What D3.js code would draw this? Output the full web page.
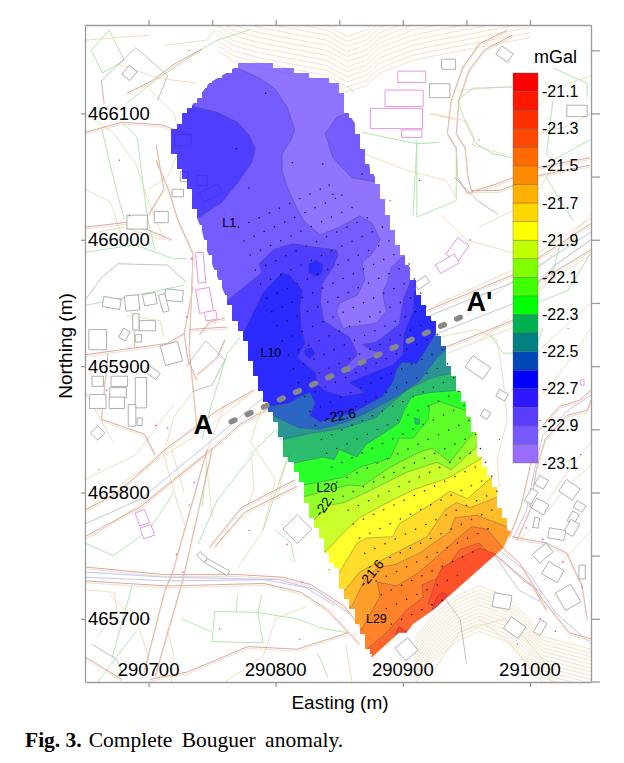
<!DOCTYPE html>
<html>
<head>
<meta charset="utf-8">
<script src="https://cdn.jsdelivr.net/npm/d3@7"></script>
<style>
  html, body { margin: 0; padding: 0; background: #fff; }
  text { font-family: "Liberation Sans", Arial, sans-serif; fill: #000; }
</style>
</head>
<body>
<div id="canvas"></div>
<script>
var width = 624;
var height = 763;

// all map coordinates below are metres, easting-290000 / northing-465000
var originE = 290000;
var originN = 465000;

var xTickLabels = [290700, 290800, 290900, 291000];
var yTickLabels = [465700, 465800, 465900, 466000, 466100];
var xTicks50 = [290700, 290750, 290800, 290850, 290900, 290950, 291000];
var yTicks50 = [465700, 465750, 465800, 465850, 465900, 465950, 466000, 466050, 466100, 466150];

// colour bar, lowest band first
var bandLevels = [-23.1, -23.0, -22.9, -22.8, -22.7, -22.6, -22.5, -22.4, -22.3, -22.2, -22.1, -22.0, -21.9, -21.8, -21.7, -21.6, -21.5, -21.4, -21.3, -21.2, -21.1];
var bandColors = ["#9a6cff", "#7a58ff", "#5a3cff", "#2d18ff", "#0000ff", "#0048b8", "#008080", "#00b050", "#00ff00", "#40ff00", "#80ff00", "#c0ff00", "#ffff00", "#ffd800", "#ffb000", "#ff8c00", "#ff6a00", "#ff4800", "#ff3000", "#ff1800", "#ff0000"];
var barLabels = [-21.1, -21.3, -21.5, -21.7, -21.9, -22.1, -22.3, -22.5, -22.7, -22.9, -23.1];

// edge of the surveyed area
var surveyOutline = [[772,1140],[775,1140],[795,1140],[800,1135],[816,1134],[832,1128],[848,1125],[854,1116],[856,1102],[864,1089],[868,1079],[874,1057],[882,1042],[892,1013],[898,994],[907,974],[916,947],[927,931],[935,910],[937,899],[950,871],[958,847],[960,831],[966,820],[971,810],[975,797],[980,781],[985,769],[979,756],[962,741],[924,707],[908,696],[903,689],[897,689],[875,669],[872,676],[868,689],[860,707],[853,721],[849,737],[841,749],[836,765],[829,778],[824,794],[820,808],[813,823],[805,834],[805,842],[797,864],[787,881],[782,897],[776,921],[766,942],[761,955],[752,976],[746,992],[742,1008],[738,1018],[732,1039],[723,1060],[718,1073],[718,1086],[734,1106],[748,1124],[765,1134]];
var southEastStrip = [[985,769],[979,756],[962,741],[924,707],[908,696],[903,689],[897,689],[875,669],[882,700],[929,739],[968,778]];

// closed anomaly patches
var lightNorth = [[860,1102],[848,1097],[839,1084],[845,1065],[860,1049],[878,1046],[886,1043],[894,1013],[901,994],[907,988],[899,986],[891,978],[888,967],[884,958],[887,943],[879,934],[853,930],[848,943],[850,950],[864,956],[870,968],[868,982],[876,989],[882,1000],[876,1013],[866,1019],[850,1010],[835,1004],[823,1014],[816,1026],[809,1042],[805,1055],[805,1068],[812,1079],[815,1087],[809,1105],[799,1120],[787,1128],[770,1136],[760,1142],[819,1150],[866,1126]];
var lobeNorthWest = [[733,1106],[754,1101],[770,1093],[779,1083],[784,1072],[781,1061],[770,1045],[757,1029],[740,1018],[724,1016],[709,1079],[728,1110]];
var spotDeepA = [[826,981],[832,984],[837,980],[836,973],[831,971],[826,974]];
var spotDeepB = [[823,913],[828,915],[831,910],[827,906],[823,909]];
var spotGreen = [[909,859],[913,858],[913,854],[910,854]];
var patchRed = [[920,712],[927,733],[931,741],[945,748],[960,756],[974,751],[960,731],[937,707]];
var spotRedA = [[923,707],[927,718],[931,721],[935,719],[926,709]];
var spotRedB = [[897,694],[904,689],[894,688]];

// contours running across the area from west to east, south of each is the next band
var contour228 = [[752,948],[762,952],[789,974],[787,981],[798,992],[813,997],[832,994],[848,992],[849,988],[845,978],[837,966],[835,951],[838,936],[848,929],[858,923],[862,915],[864,909],[853,897],[858,895],[868,903],[883,910],[875,913],[868,917],[879,919],[897,933],[899,944],[901,955],[907,970],[913,976]];
var contour227 = [[760,921],[774,925],[790,958],[805,974],[811,972],[821,960],[819,947],[820,931],[823,918],[817,907],[831,895],[833,885],[840,880],[853,876],[870,879],[858,887],[872,893],[892,901],[895,904],[900,909],[901,926],[908,943],[909,959],[912,962],[921,964]];
var contour226 = [[783,865],[795,868],[811,871],[819,876],[827,879],[831,871],[827,861],[835,856],[860,863],[884,876],[892,887],[895,897],[899,903],[911,902],[923,921],[927,930],[937,936]];
var contour225 = [[787,864],[797,861],[819,851],[835,850],[856,856],[871,863],[895,876],[913,888],[927,907],[934,913],[945,917]];
var contour224 = [[799,842],[805,842],[829,847],[854,851],[878,859],[903,881],[923,891],[941,895],[953,897]];
var contour223 = [[807,824],[813,823],[837,828],[846,826],[850,834],[864,828],[871,838],[882,845],[897,855],[901,865],[907,876],[921,879],[945,881],[956,883]];
var contour222 = [[815,806],[823,806],[853,812],[866,820],[890,827],[897,843],[908,843],[920,858],[921,869],[929,872],[949,865],[960,864]];
var contour221 = [[816,797],[824,797],[842,802],[858,806],[868,805],[890,820],[913,832],[923,835],[937,824],[956,848],[968,854]];
var contour220 = [[821,774],[829,777],[842,790],[854,792],[871,800],[903,816],[927,824],[938,818],[960,838],[972,842]];
var contour219 = [[831,751],[839,753],[856,771],[866,780],[882,789],[908,802],[937,812],[962,827],[976,834]];
var contour218 = [[841,733],[849,735],[864,760],[872,764],[892,765],[897,775],[921,790],[937,801],[951,795],[972,814],[984,818]];
var contour217 = [[845,718],[853,721],[866,737],[892,751],[919,765],[933,786],[942,792],[953,788],[976,797],[988,798]];
var contour216 = [[852,707],[860,710],[871,733],[882,741],[894,743],[913,752],[937,769],[941,780],[958,782],[984,772],[996,767]];
var contour215 = [[858,688],[868,692],[882,718],[880,729],[895,726],[913,737],[939,760],[954,773],[966,771],[979,756],[988,747]];
var contour214 = [[862,668],[872,676],[887,689],[903,707],[916,717],[915,727],[929,733],[945,755],[960,760],[971,749],[980,739]];

// survey lines: first station of each line and eastings of its stations
var lineStartE = [771,775,780,784,788,793,797,801,805,810,814,818,823,827,831,836,840,844,848,853,857,861,866,870,874,879,883,887,891];
var lineStartN = [1010,999,988,976,965,954,943,932,920,909,898,887,876,864,853,842,831,820,808,797,786,775,764,752,741,730,719,708,696];
var lineSlope = 0.47;
var stationE = [
  [771,779,787,795,803,811,819,827,835,842],
  [775,783,791,799,807,815,823,831,839,847,852],
  [780,788,796,804,812,820,828,836,844,852,860],
  [784,792,800,808,816,824,832,840,848,856,864,872],
  [788,796,804,812,820,828,836,844,852,860,868,876,884],
  [793,801,809,817,825,833,841,849,857,865,873,881,889],
  [797,805,813,821,829,837,845,853,861,869,877,885,893],
  [801,809,817,825,833,841,849,857,865,873,881,889,897,905],
  [805,813,821,829,837,845,853,861,869,877,885,893,901,909],
  [810,818,826,834,842,850,858,866,874,882,890,898,906,914],
  [814,822,830,838,846,854,862,870,878,886,894,902,910,918],
  [818,826,834,842,850,858,866,874,882,890,898,906,914,922],
  [823,831,839,847,855,863,871,879,887,895,903,911,919,927],
  [827,835,843,851,859,867,875,883,891,899,907,915,923,931],
  [831,839,847,855,863,871,879,887,895,903,911,919,927,935],
  [836,844,852,860,868,876,884,892,900,908,916,924,932,940],
  [840,848,856,864,872,880,888,896,904,912,920,928,936,944],
  [844,852,860,868,876,884,892,900,908,916,924,932,940,948],
  [848,856,864,872,880,888,896,904,912,920,928,936,944,952],
  [853,861,869,877,885,893,901,909,917,925,933,941,949,957],
  [857,865,873,881,889,897,905,913,921,929,937,945,953,961],
  [861,869,877,885,893,901,909,917,925,933,941,949,957,965],
  [866,874,882,890,898,906,914,922,930,938,946,954,962,970],
  [870,878,886,894,902,910,918,926,934,942,950,958,966,974],
  [874,882,890,898,906,914,922,930,938,946,954,962,970],
  [879,887,895,903,911,919,927,935,943,951,959,967],
  [883,891,899,907,915,923,931,939,947,955],
  [887,895,903,911,919,927,935,943],
  [891,899,907,915,923,931]
];
var scatterStations = [[792,1116],[769,1072],[813,1061],[779,1041],[845,1036],[868,1052],[837,1060]];

// profile A-A'
var profileLine = [[765,856],[946,939]];

// base map traces
var mapRoads = [
  [[650,741],[713,735],[770,735],[805,733],[828,727],[854,710],[874,684]],
  [[650,730],[715,726],[791,728],[820,721],[841,707],[866,680]],
  [[697,660],[713,723],[719,737],[746,834]],
  [[705,654],[727,731],[750,834]],
  [[738,852],[732,913],[735,989],[723,1016],[716,1039],[706,1063]],
  [[650,1085],[679,1093],[710,1091],[732,1083]],
  [[650,786],[676,800],[713,834],[754,865],[783,881]],
  [[650,765],[694,789],[746,831],[772,854],[799,869]],
  [[919,944],[986,972],[1048,1013]],
  [[931,914],[986,936],[1008,968],[1048,992]],
  [[979,756],[992,744],[1008,718],[1031,689],[1048,684]],
  [[971,752],[1002,726],[1013,707]],
  [[986,765],[1013,760],[1029,752],[1041,726],[1045,700]],
  [[1048,881],[1039,873],[1023,868],[1005,847],[1000,820],[993,789],[984,765]],
  [[1048,873],[1045,865],[1029,861],[1012,842],[1005,818],[1000,786],[990,763]],
  [[982,1166],[960,1155],[947,1136],[938,1110],[935,1084],[942,1073],[943,1049],[951,1037],[976,1045],[1005,1057],[1047,1065]],
  [[986,1162],[964,1150],[952,1134],[944,1110],[942,1084],[949,1073],[951,1051],[954,1039],[976,1039],[1008,1051],[1047,1059]],
  [[752,757],[775,784],[817,805]],
  [[748,757],[773,788],[815,810]],
  [[778,678],[731,658],[701,652]],
  [[778,678],[817,676],[857,689]],
  [[650,670],[679,652]],
  [[650,909],[715,918],[728,926],[735,963]],
  [[689,915],[689,942]],
  [[668,910],[663,858],[697,846],[705,830]],
  [[732,929],[762,931]],
  [[738,889],[731,905],[728,926]],
  [[738,893],[754,907],[760,921]],
  [[663,1126],[665,1108]],
  [[683,1116],[703,1126],[720,1139],[742,1151]],
  [[700,1020],[712,1040],[706,1075]],
  [[740,925],[748,935],[760,938]],
  [[650,1010],[685,1014],[718,1000]]
];
var mapBlue = [
  [[650,737],[713,733],[803,731],[831,723],[858,704]],
  [[650,733],[716,730],[791,731],[823,725],[846,711]],
  [[921,940],[986,966],[1048,1006]],
  [[650,775],[694,795],[746,838],[790,875]],
  [[1048,877],[1030,865],[1010,845],[1003,815],[997,785],[987,764]],
  [[975,755],[1000,735],[1020,705],[1048,680]],
  [[971,752],[981,744],[994,731],[1009,721],[1007,714],[991,723],[971,752]],
  [[925,925],[988,950],[1020,980],[1048,1000]]
];
var mapGreen = [
  [[663,1088],[676,1034],[681,1016]],
  [[679,1093],[691,1081],[699,1018],[705,992]],
  [[655,1150],[669,1166],[681,1142],[664,1132],[655,1150]],
  [[683,1108],[705,1126],[742,1151],[754,1158],[779,1166]],
  [[868,1085],[911,1076],[929,1077]],
  [[911,1076],[908,1019]],
  [[943,1110],[950,1091],[958,1076],[971,1068],[986,1065]],
  [[943,1110],[955,1120],[986,1121]],
  [[911,1079],[911,1018],[942,1031],[942,1071]],
  [[1018,1136],[1045,1124],[1045,1113]],
  [[1018,1110],[1013,1068],[1018,1063],[1047,1079]],
  [[1013,1049],[1034,1015]],
  [[739,759],[754,794],[783,831]],
  [[746,820],[742,789]],
  [[752,706],[750,682],[790,681],[786,705],[752,706]],
  [[770,719],[769,706]],
  [[789,719],[786,705]],
  [[786,705],[817,700],[838,692],[857,689]],
  [[726,700],[749,690]],
  [[687,726],[671,668]],
  [[833,673],[841,654]],
  [[650,948],[728,964]],
  [[650,990],[689,996],[720,985],[730,985]],
  [[772,923],[762,910],[749,868],[742,842]],
  [[856,1122],[862,1116]],
  [[968,926],[979,910],[992,911]],
  [[1016,966],[1023,994],[1037,1002]],
  [[650,760],[672,750],[700,770],[720,800]],
  [[780,830],[800,850],[810,830],[790,770]],
  [[800,770],[812,760],[815,745]],
  [[1005,950],[1030,960],[1048,990]],
  [[985,880],[1000,900],[1010,930]],
  [[660,650],[690,690]]
];
var mapTan = [
  [[870,1068],[903,1055],[934,1047],[942,1034]],
  [[683,940],[709,936],[712,923]],
  [[812,834],[805,812],[801,794]],
  [[781,828],[783,802],[778,790]],
  [[728,800],[718,834]],
  [[650,723],[673,721],[675,707],[660,686]],
  [[715,692],[720,670],[718,650]],
  [[676,1139],[707,1128],[738,1124]],
  [[650,1158],[701,1162]],
  [[713,1154],[746,1158],[752,1166]],
  [[921,1100],[941,1095]],
  [[929,923],[958,929],[974,921],[979,889],[982,857],[974,826],[976,804]],
  [[1048,822],[1027,802],[1008,778],[992,763]],
  [[943,1118],[966,1120],[986,1121]],
  [[921,1100],[937,1097],[950,1094],[956,1081],[955,1075],[982,1067]],
  [[650,1100],[672,1085],[690,1060],[700,1030],[712,1000]],
  [[700,1120],[720,1100],[726,1075],[715,1050],[700,1040]],
  [[650,1040],[670,1030],[680,1000]],
  [[655,1005],[680,1010],[710,1000]],
  [[735,880],[720,860],[712,830],[720,800],[730,770]],
  [[760,870],[745,830],[750,780]],
  [[790,870],[780,840],[800,810],[790,770],[770,740]],
  [[650,880],[672,840]],
  [[650,810],[690,830],[720,870]],
  [[668,720],[690,700],[700,670],[695,652]],
  [[760,650],[790,670],[800,700],[825,710]],
  [[860,650],[855,680]],
  [[930,1020],[950,1000],[985,990],[1010,1000]],
  [[960,1010],[1000,1030],[1020,1060]],
  [[1000,1100],[1020,1120],[1048,1130]],
  [[990,1080],[1030,1090],[1048,1100]],
  [[950,940],[990,970],[1010,980],[1048,1020]],
  [[960,920],[1000,950],[1020,980],[1048,1000]],
  [[990,860],[1012,880],[1035,910],[1048,930]],
  [[995,900],[1015,920],[1048,950]],
  [[1012,790],[1025,810],[1048,840]],
  [[1010,730],[1030,750],[1048,770]],
  [[960,700],[985,680],[1000,660]],
  [[925,660],[945,690],[980,700],[1000,680],[1020,655]],
  [[650,786],[690,815],[745,850],[780,878]],
  [[655,765],[700,795],[750,835]],
  [[925,948],[986,976],[1048,1017]],
  [[935,910],[990,932],[1012,965],[1048,988]]
];
var mapGrey = [
  [[650,952],[663,970],[676,981],[715,980],[730,966]],
  [[663,1126],[690,1152],[715,1130],[707,1110]],
  [[730,900],[745,920],[760,905],[750,885],[735,880]],
  [[940,1050],[960,1030],[975,1020]],
  [[655,680],[675,668],[680,655]],
  [[930,720],[945,700],[950,665]]
];
// hillside contour families: one trace, and how far each following contour sits from it
var hillNorth = [[754,1150],[766,1142],[787,1136],[840,1126],[856,1117],[871,1122],[882,1132],[908,1142],[927,1146],[1000,1160]];
var hillNorthGaps = [0,4,8,12,16,20,24,28,32,36,40,44];
var hillSouth = [[909,684],[923,702],[942,718],[960,726],[982,718],[997,702],[1010,686],[1048,676]];
var hillSouthGaps = [0,3,6,9,12,15,18,21,24,27,30,33,36];

// buildings: centre easting, centre northing, width, depth, turn in degrees
var buildingsGrey = [[691,1014,16,11,0],[671,950,14,8,-10],[687,950,11,12,5],[701,953,10,9,10],[720,956,14,9,-5],[712,950,5,14,15],[699,932,13,8,0],[690,935,5,13,0],[660,921,14,16,0],[681,925,6,8,-30],[692,922,5,6,0],[718,910,14,16,15],[703,895,11,6,-35],[660,888,9,8,0],[677,888,13,8,0],[660,872,13,11,0],[676,879,13,8,0],[675,871,12,9,0],[694,879,9,24,0],[687,861,6,17,0],[693,856,4,6,0],[660,847,8,8,45],[727,1079,13,9,0],[685,1132,8,9,-40],[749,1037,16,8,25],[723,1037,9,6,0],[728,1050,6,8,0],[710,1018,11,9,0],[742,1047,8,8,0],[817,771,16,16,45],[742,749,4,8,45],[754,741,20,4,-30],[959,899,17,11,-35],[978,877,8,6,-30],[965,862,6,6,-30],[1009,808,8,8,-30],[1031,802,13,11,-35],[1039,789,8,6,-30],[1008,789,11,9,-30],[1001,797,6,11,-30],[1005,776,4,8,-10],[1034,780,6,9,-30],[1033,772,8,11,-30],[1021,767,13,8,-10],[1010,752,14,9,40],[1018,737,14,11,-30],[1030,717,14,16,30],[1041,737,5,11,0],[978,714,14,11,-10],[988,693,14,11,-35],[1008,693,6,11,-30],[903,676,13,13,40],[980,1147,11,8,-35],[936,1139,11,8,0],[929,1118,16,11,0],[1037,1102,16,9,0],[915,966,11,6,35]];
var buildingsPink = [[907,1129,22,9,0],[901,1112,30,13,0],[895,1096,41,16,0],[907,1084,16,6,0],[741,978,6,24,5],[744,952,11,19,10],[749,940,9,7,10],[695,780,8,11,20],[699,769,9,9,20],[943,992,11,16,-35],[935,981,17,8,30],[1041,887,3,4,0]];
var pinkPoints = [[734,985],[730,939],[715,851],[706,853],[667,881],[736,808],[722,751],[727,737],[809,759],[821,729],[997,772],[1010,763],[1026,745],[1041,725],[1008,700]];
var blackPoints = [[677,1063],[685,1019],[732,1150],[913,1047],[890,1031],[953,1000],[1023,1031],[960,1079],[1000,1118],[992,905],[976,842],[1008,857],[756,692],[819,684],[701,700],[661,818],[732,790],[779,770],[842,739],[700,1100],[760,1020],[1030,930],[1020,690],[990,680],[1040,830]];

// text sitting on the map: label, easting, northing
var lineLabels = [["L1",758,1010],["L10",788,907],["L20",832,800],["L29",871,697]];
var contourLabels = [["-22.6",851,861,-10],["-22.",838,790,-55],["-21.6",875,736,-50]];

var x = d3.scaleLinear().domain([290650, 291048]).range([85, 591]);
var y = d3.scaleLinear().domain([465650, 466170]).range([682, 25]);
var px = function (d) { return x(originE + d[0]); };
var py = function (d) { return y(originN + d[1]); };
var line = d3.line().x(px).y(py);

var svg = d3.select("#canvas").append("svg")
  .attr("width", width)
  .attr("height", height)
  .style("display", "block");

var defs = svg.append("defs");
defs.append("clipPath").attr("id", "frameClip")
  .append("rect")
  .attr("x", x.range()[0]).attr("y", y.range()[1])
  .attr("width", x.range()[1] - x.range()[0])
  .attr("height", y.range()[0] - y.range()[1]);

// blanked survey grid gives the stepped edge
var cell = 4;
var stepped = "";
for (var n = 660; n < 1145; n += cell) {
  var run = null;
  for (var e = 710; e <= 990; e += cell) {
    var inside = d3.polygonContains(surveyOutline, [e + cell / 2, n + cell / 2]) &&
      d3.polygonContains(surveyOutline, [e + cell, n]);
    if (inside && run === null) run = e;
    if (!inside && run !== null) {
      stepped += "M" + Math.round(px([run])) + "," + Math.round(py([0, n + cell])) +
        "H" + Math.round(px([e])) + "V" + Math.round(py([0, n])) + "H" + Math.round(px([run])) + "Z";
      run = null;
    }
  }
}
var surveyClip = defs.append("clipPath").attr("id", "surveyClip");
surveyClip.append("path").attr("d", stepped);
surveyClip.append("path").attr("d", line(southEastStrip) + "Z");

// base map
var base = svg.append("g").attr("clip-path", "url(#frameClip)").attr("fill", "none");

function shifted(trace, dn) {
  return trace.map(function (d) { return [d[0], d[1] + dn]; });
}
function corners(b) {
  var a = b[4] * Math.PI / 180, c = Math.cos(a), s = Math.sin(a);
  return [[-1, -1], [1, -1], [1, 1], [-1, 1]].map(function (k) {
    var u = k[0] * b[2] / 2, v = k[1] * b[3] / 2;
    return [b[0] + u * c - v * s, b[1] + u * s + v * c];
  });
}
function drawTraces(list, color, w) {
  base.append("g").selectAll("path").data(list).enter().append("path")
    .attr("d", line)
    .attr("stroke", color)
    .attr("stroke-width", w);
}

drawTraces(hillNorthGaps.map(function (g) { return shifted(hillNorth, g); }), "#eed4ae", 0.7);
drawTraces(hillSouthGaps.map(function (g) { return shifted(hillSouth, -g); }), "#eed4ae", 0.7);
drawTraces(mapTan, "#eed4ae", 0.8);
drawTraces(mapGreen, "#a9e3a9", 0.9);
drawTraces(mapBlue, "#b4b4e6", 0.8);
drawTraces(mapRoads, "#dc9c90", 0.9);
drawTraces(mapRoads.map(function (t) { return shifted(t, -1.5); }), "#e8d2b8", 0.7);
drawTraces(mapGrey, "#a8a8a8", 0.7);

base.append("g").selectAll("path").data(buildingsGrey).enter().append("path")
  .attr("d", function (b) { return line(corners(b)) + "Z"; })
  .attr("stroke", "#8c8c8c").attr("stroke-width", 0.7).attr("fill", "#fff");
base.append("g").selectAll("path").data(buildingsPink).enter().append("path")
  .attr("d", function (b) { return line(corners(b)) + "Z"; })
  .attr("stroke", "#e58ae0").attr("stroke-width", 0.9).attr("fill", "#fff");
base.append("g").selectAll("circle").data(pinkPoints).enter().append("circle")
  .attr("cx", px).attr("cy", py).attr("r", 0.9).attr("fill", "#ee55dd");
base.append("g").selectAll("circle").data(blackPoints).enter().append("circle")
  .attr("cx", px).attr("cy", py).attr("r", 0.6).attr("fill", "#444");

// anomaly bands, painted from low to high
var bandColor = d3.scaleThreshold()
  .domain(bandLevels.slice(1))
  .range(bandColors);

function closeSouth(c) {
  return c.concat([[1100, c[c.length - 1][1]], [1100, 600], [600, 600], [600, c[0][1]]]);
}

var layers = [
  { level: -22.9, ring: surveyOutline },
  { level: -23.0, ring: lightNorth },
  { level: -22.8, ring: lobeNorthWest },
  { level: -22.8, ring: closeSouth(contour228) },
  { level: -22.7, ring: closeSouth(contour227) },
  { level: -22.7, ring: spotDeepA },
  { level: -22.7, ring: spotDeepB },
  { level: -22.6, ring: closeSouth(contour226) },
  { level: -22.5, ring: closeSouth(contour225) },
  { level: -22.4, ring: closeSouth(contour224) },
  { level: -22.3, ring: closeSouth(contour223) },
  { level: -22.4, ring: spotGreen },
  { level: -22.2, ring: closeSouth(contour222) },
  { level: -22.1, ring: closeSouth(contour221) },
  { level: -22.0, ring: closeSouth(contour220) },
  { level: -21.9, ring: closeSouth(contour219) },
  { level: -21.8, ring: closeSouth(contour218) },
  { level: -21.7, ring: closeSouth(contour217) },
  { level: -21.6, ring: closeSouth(contour216) },
  { level: -21.5, ring: closeSouth(contour215) },
  { level: -21.4, ring: closeSouth(contour214) },
  { level: -21.3, ring: patchRed },
  { level: -21.2, ring: spotRedA },
  { level: -21.2, ring: spotRedB }
];

svg.append("g")
  .attr("clip-path", "url(#surveyClip)")
  .attr("opacity", 0.83)
  .selectAll("path").data(layers).enter().append("path")
  .attr("d", function (d) { return line(d.ring) + "Z"; })
  .attr("fill", function (d) { return bandColor(d.level + 0.01); })
  .attr("stroke", "#1c1c3a")
  .attr("stroke-opacity", 0.6)
  .attr("stroke-width", 0.6);

// stations
var stationPoints = [];
stationE.forEach(function (row, i) {
  row.forEach(function (e) {
    stationPoints.push([e, lineStartN[i] + lineSlope * (e - lineStartE[i])]);
  });
});
svg.append("g").selectAll("circle").data(stationPoints.concat(scatterStations)).enter().append("circle")
  .attr("cx", px).attr("cy", py).attr("r", 0.75).attr("fill", "#111");

// profile A-A'
svg.append("path")
  .attr("d", line(profileLine))
  .attr("fill", "none")
  .attr("stroke", "#888")
  .attr("stroke-width", 5.5)
  .attr("stroke-linecap", "round")
  .attr("stroke-dasharray", "4 13.7");

svg.append("text").attr("x", px([743])).attr("y", py([0, 846]))
  .attr("text-anchor", "middle").attr("font-size", 27).attr("font-weight", "bold").text("A");
svg.append("text").attr("x", px([950])).attr("y", py([0, 944]))
  .attr("font-size", 27).attr("font-weight", "bold").text("A'");

svg.append("g").selectAll("text").data(lineLabels).enter().append("text")
  .attr("x", function (d) { return px([d[1]]); })
  .attr("y", function (d) { return py([0, d[2]]); })
  .attr("font-size", 12.5)
  .text(function (d) { return d[0]; });

svg.append("g").selectAll("text").data(contourLabels).enter().append("text")
  .attr("transform", function (d) { return "translate(" + px([d[1]]) + "," + py([0, d[2]]) + ") rotate(" + d[3] + ")"; })
  .attr("text-anchor", "middle")
  .attr("dy", "0.35em")
  .attr("font-size", 13.5)
  .text(function (d) { return d[0]; });

// frame and ticks
var axisColor = "#9a9a9a";
function styleAxis(g) {
  g.selectAll("path,line").attr("stroke", axisColor).attr("stroke-width", 1.3);
  g.selectAll("text").remove();
}
svg.append("g").attr("transform", "translate(0," + y.range()[0] + ")")
  .call(d3.axisBottom(x).tickValues(xTickLabels).tickSize(5).tickSizeOuter(0)).call(styleAxis);
svg.append("g").attr("transform", "translate(0," + y.range()[1] + ")")
  .call(d3.axisTop(x).tickValues(xTicks50).tickSize(5).tickSizeOuter(0)).call(styleAxis);
svg.append("g").attr("transform", "translate(" + x.range()[0] + ",0)")
  .call(d3.axisLeft(y).tickValues(yTickLabels).tickSize(4).tickSizeOuter(0)).call(styleAxis);
svg.append("g").attr("transform", "translate(" + x.range()[1] + ",0)")
  .call(d3.axisRight(y).tickValues(yTicks50).tickSize(9).tickSizeOuter(0)).call(styleAxis);
svg.append("line")
  .attr("x1", x.range()[1]).attr("x2", x.range()[1] + 9)
  .attr("y1", y.range()[0]).attr("y2", y.range()[0])
  .attr("stroke", axisColor).attr("stroke-width", 1.3);

svg.append("g").selectAll("text").data(xTickLabels).enter().append("text")
  .attr("x", function (d) { return x(d); })
  .attr("y", 676)
  .attr("text-anchor", "middle")
  .attr("font-size", 18.5)
  .text(function (d) { return d; });

svg.append("g").selectAll("text").data(yTickLabels).enter().append("text")
  .attr("x", 88)
  .attr("y", function (d) { return y(d); })
  .attr("dy", "0.35em")
  .attr("font-size", 18.5)
  .text(function (d) { return d; });

svg.append("text").attr("x", 340).attr("y", 709)
  .attr("text-anchor", "middle").attr("font-size", 19).text("Easting (m)");
svg.append("text")
  .attr("transform", "translate(72,346) rotate(-90)")
  .attr("text-anchor", "middle").attr("font-size", 19).text("Northing (m)");

// colour bar
var barScale = d3.scaleLinear().domain([-23.1, -21.0]).range([463, 73]);
var bar = svg.append("g");
bar.selectAll("rect").data(bandLevels).enter().append("rect")
  .attr("x", 513)
  .attr("width", 25)
  .attr("y", function (d) { return barScale(d + 0.1); })
  .attr("height", function (d) { return barScale(d) - barScale(d + 0.1); })
  .attr("fill", function (d, i) { return bandColors[i]; })
  .attr("stroke", "#555")
  .attr("stroke-opacity", 0.55)
  .attr("stroke-width", 0.6);

var barAxis = svg.append("g").attr("transform", "translate(538,0)")
  .call(d3.axisRight(barScale).tickValues(barLabels).tickSize(0).tickPadding(4).tickFormat(d3.format(".1f")));
barAxis.select(".domain").remove();
barAxis.selectAll("text").attr("font-size", 16).attr("font-family", "Liberation Sans").attr("fill", "#000")
  .text(function (d) { return d.toFixed(1); });

svg.append("text").attr("x", 534).attr("y", 63).attr("font-size", 18).text("mGal");

// caption
var caption = svg.append("text").attr("x", 25).attr("y", 747)
  .style("font-family", "'Liberation Serif', 'Times New Roman', serif")
  .attr("font-size", 21.5);
caption.append("tspan").attr("font-weight", "bold").text("Fig. 3.");
caption.append("tspan").attr("dx", 7).attr("word-spacing", 4).text("Complete Bouguer anomaly.");
</script>
</body>
</html>
